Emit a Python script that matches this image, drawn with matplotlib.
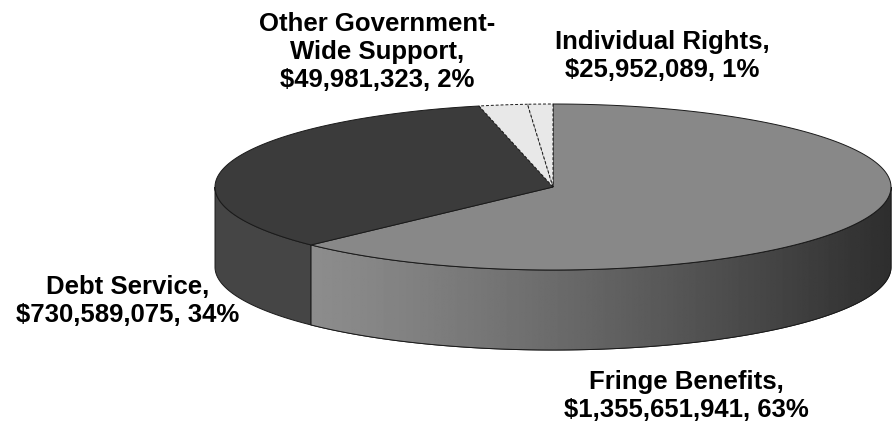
import numpy as np
import matplotlib
matplotlib.use("Agg")
import matplotlib.pyplot as plt
from matplotlib.patches import Polygon

# slice data, clockwise from 12 o'clock
categories = ["Fringe Benefits", "Debt Service", "Other Government-\nWide Support", "Individual Rights"]
amounts = [1355651941, 730589075, 49981323, 25952089]
percents = [63, 34, 2, 1]
top_colors = ["#888888", "#3b3b3b", "#e8e8e8", "#e8e8e8"]
side_colors = ["#8a8a8a", "#454545", "#d8d8d8", "#d8d8d8"]

plt.rcParams["font.family"] = ["Liberation Sans", "DejaVu Sans"]

fig = plt.figure(figsize=(8.95, 4.23), dpi=100)
ax = fig.add_axes([0, 0, 1, 1])
ax.set_xlim(0, 895)
ax.set_ylim(423, 0)
ax.axis("off")

cx, cy = 553, 187
rx, ry = 338, 83
depth = 80


def rim(t0, t1, n=200):
    t = np.radians(np.linspace(t0, t1, n))
    return cx + rx * np.sin(t), cy - ry * np.cos(t)


fracs = np.array(amounts) / sum(amounts)
bounds = np.concatenate([[0], np.cumsum(fracs) * 360])

# side walls (front half: 90..270 degrees)
for i in range(len(amounts)):
    a, b = max(bounds[i], 90), min(bounds[i + 1], 270)
    if a >= b:
        continue
    x, y = rim(a, b)
    pts = np.column_stack([np.concatenate([x, x[::-1]]),
                           np.concatenate([y, y[::-1] + depth])])
    poly = Polygon(pts, closed=True, facecolor=side_colors[i],
                   edgecolor="#1a1a1a", lw=0.7, zorder=2)
    ax.add_patch(poly)
    if i == 0:
        # shading across the fringe side
        gx = np.linspace(0, 1, 400)
        shade = 0.55 - 0.37 * gx ** 1.2
        img = np.tile(shade, (10, 1))
        im = ax.imshow(img, cmap="gray", vmin=0, vmax=1, aspect="auto",
                       extent=(x.min(), x.max(), cy + ry + depth + 5, cy - 5),
                       zorder=2.5)
        im.set_clip_path(poly)
        ax.add_patch(Polygon(pts, closed=True, fill=False,
                             edgecolor="#1a1a1a", lw=0.7, zorder=3))

# top faces
for i in range(len(amounts)):
    x, y = rim(bounds[i], bounds[i + 1])
    pts = np.column_stack([np.concatenate([[cx], x]), np.concatenate([[cy], y])])
    ls = "-" if i < 2 else (0, (3, 2))
    ax.add_patch(Polygon(pts, closed=True, facecolor=top_colors[i],
                         edgecolor="#1a1a1a", lw=0.7, linestyle=ls, zorder=4))

# labels
label_pos = [(686, 396), (128, 301), (377, 52), (662, 56)]
for i, (lx, ly) in enumerate(label_pos):
    txt = "%s,\n$%s, %d%%" % (categories[i], format(amounts[i], ","), percents[i])
    ax.text(lx, ly, txt, ha="center", va="center", fontsize=18.5,
            fontweight="bold", linespacing=1.2, zorder=6)

fig.savefig("out.png", dpi=100)
